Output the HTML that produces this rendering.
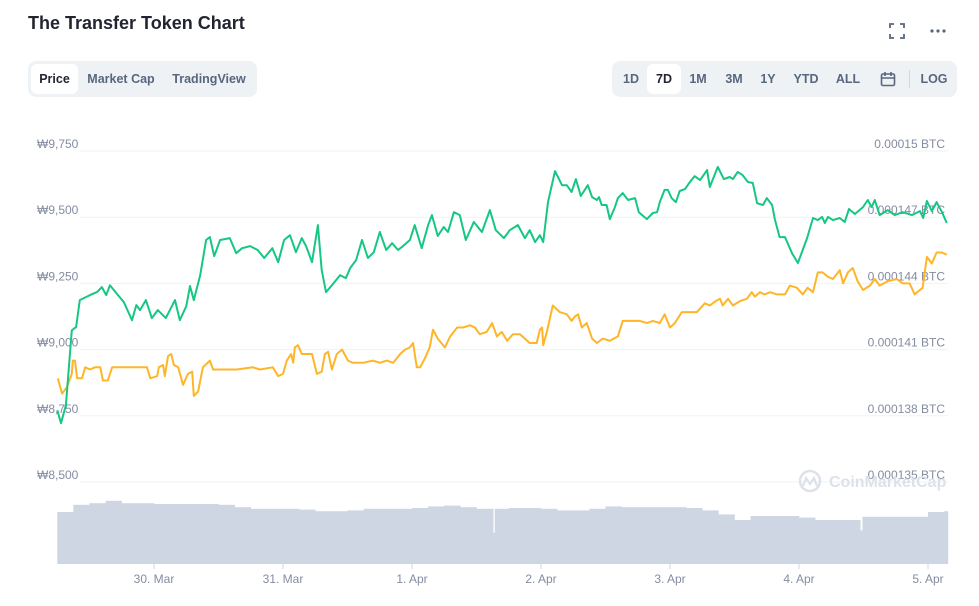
<!DOCTYPE html>
<html><head><meta charset="utf-8"><style>
body{margin:0;background:#fff;font-family:"Liberation Sans",sans-serif;}
#root{position:relative;width:979px;height:606px;overflow:hidden;}
.title{position:absolute;left:28px;top:13px;font-size:18px;font-weight:bold;color:#222531;}
.grp{position:absolute;top:61px;height:36px;background:#eff2f5;border-radius:8px;}
.tab{position:absolute;top:3px;height:30px;line-height:30px;font-size:12.5px;color:#58667e;text-align:center;font-weight:bold;}
.tab.act{background:#fff;border-radius:6px;color:#222531;}
svg text{font-family:"Liberation Sans",sans-serif;}
</style></head><body>
<div id="root">
<div class="title">The Transfer Token Chart</div>
<svg style="position:absolute;left:889px;top:23px" width="16" height="16"><path d="M1 5V1h4M11 1h4v4M15 11v4h-4M5 15H1v-4" stroke="#58667e" stroke-width="1.8" fill="none"/></svg>
<svg style="position:absolute;left:929px;top:27px" width="18" height="8"><circle cx="3" cy="4" r="1.6" fill="#58667e"/><circle cx="9" cy="4" r="1.6" fill="#58667e"/><circle cx="15" cy="4" r="1.6" fill="#58667e"/></svg>
<div class="grp" style="left:28px;width:229px">
 <div class="tab act" style="left:3px;width:47px">Price</div>
 <div class="tab" style="left:54px;width:78px">Market Cap</div>
 <div class="tab" style="left:138px;width:86px">TradingView</div>
</div>
<div class="grp" style="left:612px;width:345px">
 <div class="tab" style="left:3px;width:32px">1D</div>
 <div class="tab act" style="left:35px;width:34px">7D</div>
 <div class="tab" style="left:70px;width:32px">1M</div>
 <div class="tab" style="left:106px;width:32px">3M</div>
 <div class="tab" style="left:141px;width:30px">1Y</div>
 <div class="tab" style="left:176px;width:36px">YTD</div>
 <div class="tab" style="left:218px;width:36px">ALL</div>
 <svg style="position:absolute;left:268px;top:10px" width="16" height="16"><rect x="1.5" y="3" width="13" height="11.5" rx="1.5" stroke="#58667e" stroke-width="1.6" fill="none"/><path d="M1.5 7h13M5 1v4M11 1v4" stroke="#58667e" stroke-width="1.6"/></svg>
 <div style="position:absolute;left:297px;top:9px;width:1px;height:18px;background:#cfd6e4"></div>
 <div class="tab" style="left:305px;width:34px">LOG</div>
</div>
<svg id="chart" style="position:absolute;left:0;top:0" width="979" height="606"></svg>
</div>
<script>
const priceTicks=[9750,9500,9250,9000,8750,8500];
const priceTickLabels=["₩9,750","₩9,500","₩9,250","₩9,000","₩8,750","₩8,500"];
const btcTicks=[150e-6,147e-6,144e-6,141e-6,138e-6,135e-6];
const btcTickLabels=["0.00015 BTC","0.000147 BTC","0.000144 BTC","0.000141 BTC","0.000138 BTC","0.000135 BTC"];
const dayTicks=[24,48,72,96,120,144,168];
const dayLabels=["30. Mar","31. Mar","1. Apr","2. Apr","3. Apr","4. Apr","5. Apr"];
// hours since 29 Mar 00:00
const priceHours=[6.0,6.7,7.6,8.7,9.5,10.2,12.1,13.4,14.3,15.1,15.8,17.3,18.4,19.9,20.7,21.4,22.5,23.6,24.7,26.2,27.9,28.8,30.0,30.7,31.4,32.6,33.7,34.4,35.2,36.3,38.1,39.3,40.4,41.9,43.3,44.5,46.0,47.1,48.2,49.3,50.4,51.5,52.3,53.4,54.5,55.2,56.0,57.1,58.6,59.7,60.5,61.6,62.7,63.8,64.9,66.0,67.2,68.3,69.4,70.1,71.6,72.5,73.8,75.0,75.7,76.8,77.9,78.7,79.8,80.9,82.0,83.5,85.0,86.5,87.6,89.1,90.2,91.7,93.0,93.9,94.9,95.8,
96.4,97.3,98.6,99.9,100.8,101.7,102.5,103.4,104.7,105.5,106.4,106.8,107.3,108.2,108.8,109.7,110.3,111.2,112.2,113.5,114.2,115.7,116.8,117.6,118.1,119.0,119.6,120.3,121.1,121.8,122.8,123.7,124.6,125.6,126.9,127.4,128.9,130.0,131.1,131.7,132.6,133.5,134.5,135.4,136.2,137.3,138.0,139.0,139.5,140.4,141.4,142.7,143.8,145.5,146.6,147.5,148.3,148.8,149.4,150.3,151.6,152.5,153.3,154.4,155.9,156.8,157.5,158.1,159.0,160.5,161.8,163.3,165.0,166.5,167.1,167.8,168.7,169.6,170.6,171.5];
const priceValues=[8771,8722,8790,9073,9085,9187,9206,9217,9236,9206,9243,9206,9179,9111,9168,9149,9187,9119,9149,9119,9187,9111,9164,9240,9187,9281,9414,9425,9353,9414,9421,9364,9383,9391,9376,9346,9383,9330,9414,9432,9368,9421,9391,9330,9470,9300,9217,9243,9281,9270,9308,9338,9414,9346,9368,9444,9376,9402,9376,9387,9414,9470,9383,9470,9508,9429,9463,9444,9519,9508,9414,9482,9444,9527,9451,9421,9451,9470,9421,9451,9406,9432,
9406,9557,9674,9621,9621,9595,9644,9580,9621,9576,9565,9576,9546,9546,9493,9535,9572,9591,9565,9572,9519,9493,9516,9519,9557,9603,9603,9572,9557,9599,9606,9633,9655,9640,9678,9614,9690,9644,9652,9644,9671,9659,9633,9629,9553,9546,9572,9546,9493,9425,9425,9364,9327,9421,9497,9489,9501,9478,9501,9489,9497,9482,9531,9512,9538,9565,9538,9565,9508,9527,9508,9519,9508,9523,9497,9561,9523,9557,9519,9478];
const btcHours=[6.1,6.9,7.8,8.7,8.9,9.3,9.7,10.6,11.2,12.1,13.0,14.0,14.5,15.4,16.2,17.7,20.1,22.7,23.3,24.6,24.9,25.7,26.0,26.6,27.2,27.7,28.5,29.4,30.3,31.1,31.4,32.2,33.1,34.4,35.0,39.4,42.4,43.7,46.1,47.1,48.0,48.7,49.5,49.9,50.2,50.8,51.5,52.6,53.4,54.3,55.2,55.8,56.4,57.1,58.0,59.0,60.1,61.0,62.9,64.7,66.0,67.3,68.5,69.8,70.7,71.6,72.2,72.9,73.5,74.4,75.3,75.9,76.8,78.1,79.1,80.4,81.5,82.8,83.7,84.6,85.9,86.9,87.8,88.7,89.7,90.8,92.1,93.9,95.2,95.8,96.2,96.4,97.1,98.2,99.5,100.8,101.7,102.3,102.9,103.6,104.5,105.5,106.4,107.5,108.8,110.3,111.2,112.2,113.5,114.4,115.7,116.8,118.1,119.0,120.0,120.9,122.2,123.7,125.0,126.5,127.4,128.5,129.3,129.8,130.8,131.7,133.0,134.3,135.2,135.8,136.7,137.6,138.6,139.9,141.4,142.3,143.6,144.7,145.6,146.6,147.5,148.4,149.4,150.3,151.6,152.2,153.1,154.0,154.9,155.9,157.2,158.1,159.0,160.5,162.2,163.3,164.6,165.5,166.5,167.0,167.8,168.7,169.6,170.6,171.5];
const btcValues=[139.7,139.0,139.3,139.9,140.5,140.5,139.7,139.7,140.2,140.1,140.2,140.2,139.6,139.6,140.2,140.2,140.2,140.2,139.7,139.8,140.2,140.3,139.8,140.7,140.8,140.3,140.2,139.4,139.9,140.0,138.9,139.1,140.2,140.5,140.1,140.1,140.2,140.1,140.2,139.8,139.9,140.5,140.8,140.4,141.1,141.2,140.8,140.8,140.8,139.9,140.0,140.8,140.9,140.1,140.8,141.0,140.5,140.4,140.4,140.5,140.4,140.5,140.4,140.8,141.0,141.1,141.3,140.2,140.2,140.6,141.1,141.9,141.5,141.1,141.6,142.0,142.0,142.1,142.0,141.7,141.8,142.2,141.6,141.8,141.4,141.7,141.7,141.3,141.3,141.9,142.0,141.2,141.8,143.0,142.7,142.6,142.3,142.5,142.6,142.0,142.2,141.5,141.3,141.5,141.4,141.6,142.3,142.3,142.3,142.3,142.2,142.3,142.2,142.6,142.0,142.2,142.7,142.7,142.7,143.1,143.0,143.2,143.3,143.0,143.3,143.0,143.2,143.3,143.6,143.4,143.6,143.5,143.6,143.5,143.5,143.9,143.8,143.5,143.8,143.6,144.5,144.5,144.3,144.2,144.6,144.0,144.5,144.7,144.1,143.7,143.9,144.2,143.9,144.1,144.2,144.0,144.0,143.5,143.7,143.8,145.2,144.9,145.4,145.4,145.3].map(v=>v*1e-6);
const volHours=[6,9,12,15,18,21,24,27,30,33,36,39,42,45,48,51,54,57,60,63,66,69,72,75,78,81,84,87,87.1,87.4,90,93,96,99,102,105,108,111,114,117,120,123,126,129,132,135,138,141,144,147,150,153,155.4,155.8,159,162,165,168,171];
const volValues=[65,74,76,79,76,76,75,75,75,75,74,71,69,69,69,68,66,66,67,69,69,69,70,72,73,71,69,69,39,69,70,70,69,67,67,69,72,71,71,71,71,70,67,62,55,60,60,60,58,55,55,55,42,59,59,59,59,65,66];
const volEnd=171.7;

const NS="http://www.w3.org/2000/svg";
const svg=document.getElementById('chart');
const X=h=>154+(h-24)*129/24;
const YP=v=>151+(9750-v)/250*66.2;
const YB=b=>151+(150e-6-b)/3e-6*66.2;
const YV=v=>564-v*0.8;
function mk(tag,attrs,parent){const e=document.createElementNS(NS,tag);for(const k in attrs)e.setAttribute(k,attrs[k]);(parent||svg).appendChild(e);return e;}

priceTicks.forEach((t,i)=>{
 const g=mk('line',{x1:80,x2:948,y1:YP(t),y2:YP(t),stroke:'#eff2f5','stroke-width':1});
 
 
 const l=mk('text',{x:37,y:YP(t)-3,'font-size':12,fill:'#858ca2'});
 l.textContent=priceTickLabels[i];
 
 
});
btcTicks.forEach((t,i)=>{
 const l=mk('text',{x:945,y:YB(t)-3,'font-size':12,fill:'#858ca2','text-anchor':'end'});
 l.textContent=btcTickLabels[i];
 
 
});
// watermark
const wm=mk('g',{});


mk('circle',{cx:810,cy:481,r:10,fill:'none',stroke:'#dde2ea','stroke-width':2.5},wm);
mk('path',{d:'M803 486 l3-8 4 6 4-6 3 8',fill:'none',stroke:'#dde2ea','stroke-width':2.2},wm);
const wt=mk('text',{x:829,y:487,'font-size':16,'font-weight':'bold',fill:'#dde2ea'},wm);
wt.textContent='CoinMarketCap';
// volume
volHours.forEach((h,i)=>{
 const nx=i<volHours.length-1?volHours[i+1]:volEnd;
 const r=mk('rect',{x:X(h),y:YV(volValues[i]),width:X(nx)-X(h)+0.3,height:564-YV(volValues[i]),fill:'#cfd6e3'});
 
 
});
// x ticks
dayTicks.forEach((h,i)=>{
 const t=mk('line',{x1:X(h),x2:X(h),y1:564,y2:569,stroke:'#cfd6e3'});
 
 
 const l=mk('text',{x:X(h),y:583,'font-size':12,fill:'#858ca2','text-anchor':'middle'});
 l.textContent=dayLabels[i];
 
 
});
const ob=mk('polyline',{points:btcHours.map((h,i)=>X(h).toFixed(1)+','+YB(btcValues[i]).toFixed(1)).join(' '),fill:'none',stroke:'#ffb528','stroke-width':2,'stroke-linejoin':'round'});


const gp=mk('polyline',{points:priceHours.map((h,i)=>X(h).toFixed(1)+','+YP(priceValues[i]).toFixed(1)).join(' '),fill:'none',stroke:'#16c784','stroke-width':2,'stroke-linejoin':'round'});


</script>
</body></html>
